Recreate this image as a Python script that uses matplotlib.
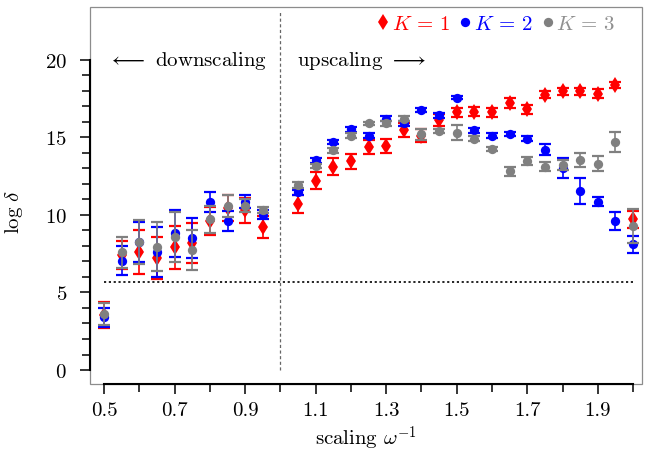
import numpy as np
import matplotlib
matplotlib.use("Agg")
import matplotlib.pyplot as plt
from matplotlib.lines import Line2D
from matplotlib.patches import Rectangle

plt.rcParams['font.family'] = 'serif'
plt.rcParams['font.serif'] = ['cmr10']
plt.rcParams['mathtext.fontset'] = 'cm'
plt.rcParams['axes.formatter.use_mathtext'] = True

# scaling factors (no run at 1.0)
scale_down = [0.5, 0.55, 0.6, 0.65, 0.7, 0.75, 0.8, 0.85, 0.9, 0.95]
scale_up = [1.05, 1.1, 1.15, 1.2, 1.25, 1.3, 1.35, 1.4, 1.45, 1.5,
            1.55, 1.6, 1.65, 1.7, 1.75, 1.8, 1.85, 1.9, 1.95, 2.0]
scales = scale_down + scale_up

k1_mean = [3.55, 7.4, 7.6, 7.2, 7.9, 8.2, 9.6, 10.45, 10.3, 9.2,
           10.7, 12.2, 13.1, 13.45, 14.4, 14.45, 15.45, 15.1, 16.1, 16.6,
           16.65, 16.6, 17.2, 16.8, 17.75, 17.95, 17.95, 17.8, 18.35, 9.7]
k1_err = [0.85, 0.9, 1.4, 1.35, 1.4, 1.3, 0.9, 0.85, 0.8, 0.7,
          0.6, 0.55, 0.55, 0.5, 0.45, 0.45, 0.45, 0.4, 0.4, 0.3,
          0.3, 0.3, 0.3, 0.3, 0.25, 0.25, 0.25, 0.3, 0.2, 0.55]

k2_mean = [3.4, 7.05, 8.25, 7.6, 8.8, 8.5, 10.85, 9.6, 10.85, 10.0,
           11.45, 13.5, 14.7, 15.5, 15.1, 16.2, 15.9, 16.75, 16.4, 17.55,
           15.45, 15.1, 15.2, 14.9, 14.2, 13.0, 11.55, 10.85, 9.6, 8.1]
k2_err = [0.6, 0.95, 1.3, 1.6, 1.5, 1.3, 0.65, 0.65, 0.4, 0.3,
          0.15, 0.15, 0.15, 0.15, 0.15, 0.15, 0.15, 0.1, 0.15, 0.1,
          0.15, 0.15, 0.15, 0.15, 0.35, 0.65, 0.85, 0.3, 0.55, 0.55]

k3_mean = [3.6, 7.6, 8.25, 7.95, 8.55, 7.75, 9.7, 10.55, 10.6, 10.3,
           11.9, 13.15, 14.15, 15.1, 15.9, 15.9, 16.2, 15.2, 15.4, 15.3,
           14.9, 14.25, 12.8, 13.45, 13.1, 13.2, 13.55, 13.3, 14.7, 9.3]
k3_err = [0.7, 1.0, 1.4, 1.6, 1.6, 1.3, 0.9, 0.7, 0.45, 0.2,
          0.2, 0.15, 0.15, 0.15, 0.1, 0.15, 0.15, 0.35, 0.1, 0.5,
          0.15, 0.15, 0.3, 0.25, 0.3, 0.3, 0.45, 0.5, 0.65, 1.1]

baseline = 5.7

fig = plt.figure(figsize=(6.52, 4.6), dpi=100)
ax = fig.add_axes([0.138, 0.163, 0.847, 0.82])

series = [
    (k1_mean, k1_err, '#ff0000', 'd', 8.5),
    (k2_mean, k2_err, '#0000ff', 'o', 6.7),
    (k3_mean, k3_err, '#808080', 'o', 6.7),
]
for mean, err, col, mk, ms in series:
    ax.errorbar(scales, mean, yerr=err, fmt='none', ecolor=col,
                elinewidth=1.2, capsize=4.3, capthick=1.6)
    ax.plot(scales, mean, mk, color=col, ms=ms, mew=0)

ax.plot([0.5, 2.0], [baseline, baseline], color='black', lw=1.2,
        ls=(0, (1.3, 1.6)))
ax.vlines(1.0, 0, 23.1, color='#666666', lw=0.9, ls=(0, (2.5, 2)))

ax.text(0.735, 20, r'$\longleftarrow$ downscaling', ha='center', va='center',
        fontsize=15)
ax.text(1.047, 20, r'upscaling $\longrightarrow$', ha='left', va='center',
        fontsize=15)

ax.set_xlim(0.46, 2.026)
ax.set_ylim(-0.9, 23.4)

for s in ax.spines.values():
    s.set_visible(False)
ax.add_patch(Rectangle((0, 0), 1, 1, transform=ax.transAxes, fill=False,
                       ec='#8c8c8c', lw=0.9, clip_on=False, zorder=0))
ax.spines['left'].set_visible(True)
ax.spines['bottom'].set_visible(True)
ax.spines['left'].set_bounds(0, 20)
ax.spines['bottom'].set_bounds(0.5, 2.0)
ax.spines['left'].set_linewidth(1.5)
ax.spines['bottom'].set_linewidth(1.5)

ax.set_xticks(np.arange(0.5, 1.95, 0.2))
ax.set_xticks(np.arange(0.6, 2.05, 0.2), minor=True)
ax.set_xticklabels(['0.5', '0.7', '0.9', '1.1', '1.3', '1.5', '1.7', '1.9'])
ax.set_yticks([0, 5, 10, 15, 20])
ax.set_yticks(np.arange(0, 21, 1), minor=True)
ax.tick_params(which='major', length=7.5, width=1.1, labelsize=15)
ax.tick_params(which='minor', length=5.5, width=1.1)
ax.tick_params(axis='x', pad=5)
ax.tick_params(axis='y', pad=9)

ax.set_xlabel(r'scaling $\omega^{-1}$', fontsize=15)
ax.set_ylabel(r'$\log\,\delta$', fontsize=15)
ax.xaxis.set_label_coords(0.5, -0.105)
ax.yaxis.set_label_coords(-0.118, 0.459)

handles = [Line2D([], [], marker=mk, color=col, ls='none', ms=ms, mew=0)
           for _, _, col, mk, ms in series]
ax.legend(handles, [r'$K\,=\,1$', r'$K\,=\,2$', r'$K\,=\,3$'],
          loc='upper right', bbox_to_anchor=(0.985, 1.03), ncol=3,
          frameon=False, fontsize=15, handlelength=0.5, handletextpad=0.15,
          columnspacing=0.5,
          labelcolor=['#ff0000', '#0000ff', '#909090'])

plt.savefig('out.png', dpi=100)
plt.close()
